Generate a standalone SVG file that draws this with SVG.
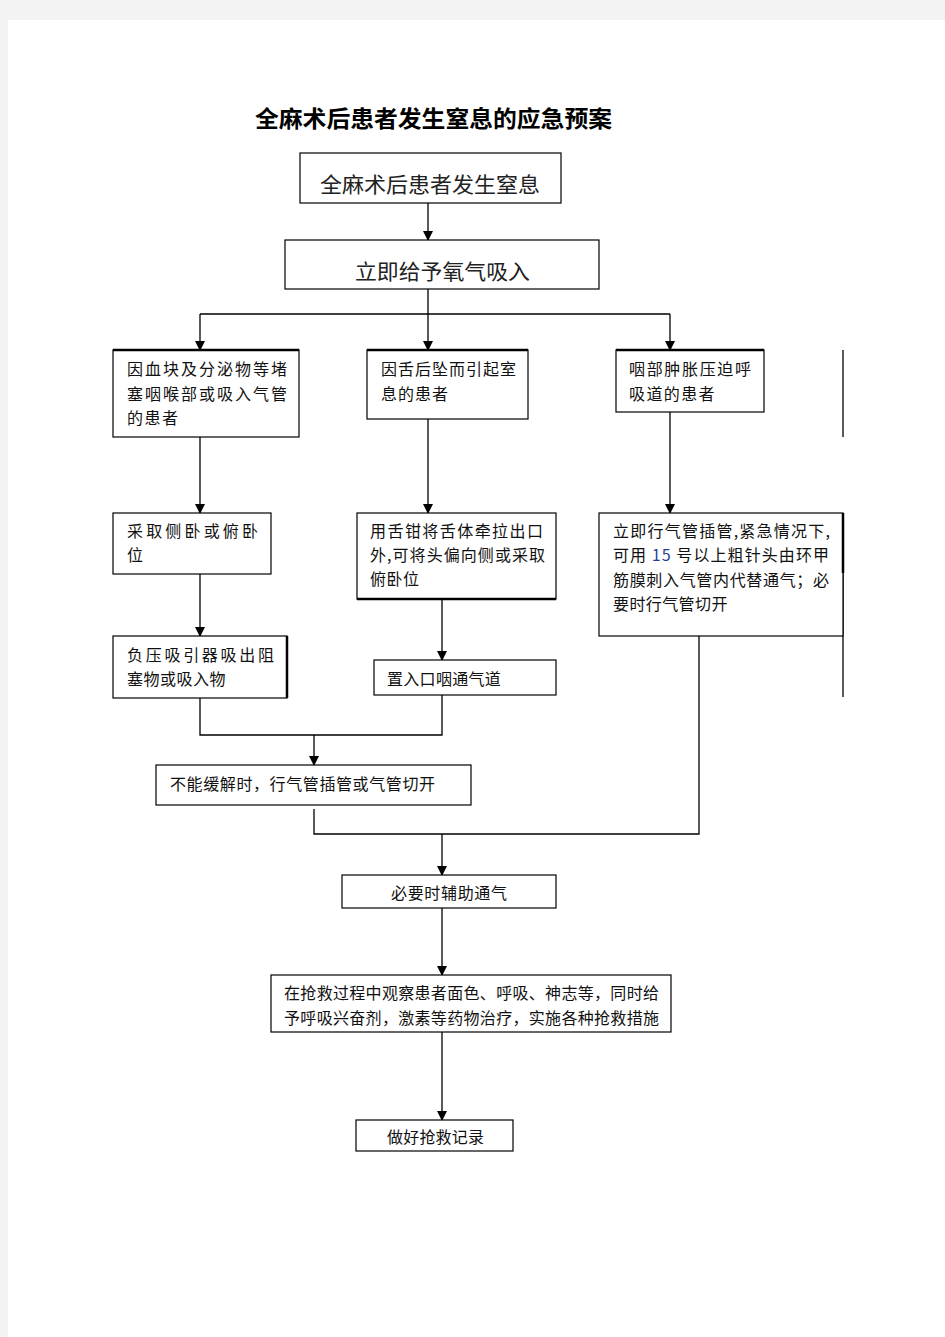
<svg xmlns="http://www.w3.org/2000/svg" width="945" height="1337" viewBox="0 0 945 1337">
<style>
.box{fill:#fff;stroke:#000;stroke-width:1.2}
.t{font-family:"Noto Sans CJK SC","Noto Sans",sans-serif;font-size:16px;fill:#111}
.big{font-family:"Noto Sans CJK SC","Noto Sans",sans-serif;font-size:21px;fill:#222}
.title{font-family:"Noto Sans CJK SC","Noto Sans",sans-serif;font-size:23px;font-weight:bold;fill:#000}
.ln{fill:none;stroke:#000;stroke-width:1.3}
.ar{fill:none;stroke:#000;stroke-width:1.3;marker-end:url(#ah)}
</style>
<defs>
<marker id="ah" markerWidth="10" markerHeight="10" refX="9" refY="5" orient="auto" markerUnits="userSpaceOnUse">
<path d="M0,0 L10,5 L0,10 z" fill="#000"/>
</marker>
</defs>
<rect x="0" y="0" width="945" height="1337" fill="#f3f3f3"/>
<rect x="8" y="20" width="937" height="1317" fill="#fff"/>
<text class="title" x="255" y="127" textLength="357" lengthAdjust="spacingAndGlyphs">全麻术后患者发生窒息的应急预案</text>

<g id="connectors">
<path class="ar" d="M428,203 V240"/>
<path class="ln" d="M428,289 V314 M200,314 H670"/>
<path class="ar" d="M428,314 V350"/>
<path class="ar" d="M200,314 V350"/>
<path class="ar" d="M670,314 V350"/>
<path class="ln" d="M843,350 V437"/>
<path class="ar" d="M200,437 V513"/>
<path class="ar" d="M428,419 V513"/>
<path class="ar" d="M670,412 V513"/>
<path class="ar" d="M200,574 V636"/>
<path class="ar" d="M442,599 V660"/>
<path class="ln" d="M843,573 V697"/>
<path class="ln" d="M200,698 V735 H442 V695"/>
<path class="ar" d="M314,735 V765"/>
<path class="ln" d="M314,809 V834 H699 V636"/>
<path class="ar" d="M442,834 V875"/>
<path class="ar" d="M442,908 V975"/>
<path class="ar" d="M442,1032 V1120"/>
</g>

<g id="n1">
<rect class="box" x="300" y="153" width="261" height="50"/>
<text class="big" x="320" y="192" textLength="220" lengthAdjust="spacingAndGlyphs">全麻术后患者发生窒息</text>
</g>
<g id="n2">
<rect class="box" x="285" y="240" width="314" height="49"/>
<text class="big" x="355" y="279" textLength="175" lengthAdjust="spacingAndGlyphs">立即给予氧气吸入</text>
</g>
<g id="a1">
<rect class="box" x="113" y="350" width="186" height="87"/>
<path d="M113,350 H299" stroke="#000" stroke-width="2.5"/>
<text class="t" x="127" y="375" textLength="160" lengthAdjust="spacing">因血块及分泌物等堵</text>
<text class="t" x="127" y="400" textLength="160" lengthAdjust="spacing">塞咽喉部或吸入气管</text>
<text class="t" x="127" y="424" letter-spacing="1.5">的患者</text>
</g>
<g id="b1">
<rect class="box" x="367" y="350" width="161" height="69"/>
<path d="M367,350 H528" stroke="#000" stroke-width="2.5"/>
<text class="t" x="381" y="375" textLength="135" lengthAdjust="spacing">因舌后坠而引起室</text>
<text class="t" x="381" y="400" letter-spacing="1">息的患者</text>
</g>
<g id="c1">
<rect class="box" x="616" y="350" width="148" height="62"/>
<path d="M616,350 H764" stroke="#000" stroke-width="2.5"/>
<text class="t" x="629" y="375" textLength="122" lengthAdjust="spacing">咽部肿胀压迫呼</text>
<text class="t" x="629" y="400" letter-spacing="1.4">吸道的患者</text>
</g>
<g id="a2">
<rect class="box" x="113" y="513" width="158" height="61"/>
<text class="t" x="127" y="537" textLength="131" lengthAdjust="spacing">采取侧卧或俯卧</text>
<text class="t" x="127" y="561">位</text>
</g>
<g id="b2">
<rect class="box" x="357" y="513" width="199" height="86"/>
<path d="M357,599 H556" stroke="#000" stroke-width="2.5"/>
<text class="t" x="370" y="537" textLength="173" lengthAdjust="spacing">用舌钳将舌体牵拉出口</text>
<text class="t" x="370" y="561" textLength="175" lengthAdjust="spacing">外,可将头偏向侧或采取</text>
<text class="t" x="370" y="585" letter-spacing="0.5">俯卧位</text>
</g>
<g id="c2">
<rect class="box" x="599" y="513" width="244" height="123"/>
<path d="M843,513 V573" stroke="#000" stroke-width="2.5"/>
<text class="t" x="613" y="537" textLength="217" lengthAdjust="spacing">立即行气管插管,紧急情况下,</text>
<text class="t" x="613" y="561" textLength="216" lengthAdjust="spacing">可用 <tspan fill="#1f3f9a">15</tspan> 号以上粗针头由环甲</text>
<text class="t" x="613" y="586" textLength="216" lengthAdjust="spacing">筋膜刺入气管内代替通气；必</text>
<text class="t" x="613" y="610" letter-spacing="0.4">要时行气管切开</text>
</g>
<g id="a3">
<rect class="box" x="113" y="636" width="174" height="62"/>
<path d="M287,636 V698" stroke="#000" stroke-width="2.5"/>
<text class="t" x="127" y="661" textLength="147" lengthAdjust="spacing">负压吸引器吸出阻</text>
<text class="t" x="127" y="685" letter-spacing="0.5">塞物或吸入物</text>
</g>
<g id="b3">
<rect class="box" x="374" y="660" width="182" height="35"/>
<text class="t" x="387" y="685" letter-spacing="0.3">置入口咽通气道</text>
</g>
<g id="d">
<rect class="box" x="156" y="765" width="315" height="40"/>
<text class="t" x="170" y="790" textLength="265" lengthAdjust="spacing">不能缓解时，行气管插管或气管切开</text>
</g>
<g id="e">
<rect class="box" x="342" y="875" width="214" height="33"/>
<text class="t" x="391" y="899" textLength="116" lengthAdjust="spacing">必要时辅助通气</text>
</g>
<g id="f">
<rect class="box" x="271" y="975" width="400" height="57"/>
<text class="t" x="284" y="999" textLength="375" lengthAdjust="spacing">在抢救过程中观察患者面色、呼吸、神志等，同时给</text>
<text class="t" x="284" y="1024" textLength="375" lengthAdjust="spacing">予呼吸兴奋剂，激素等药物治疗，实施各种抢救措施</text>
</g>
<g id="g">
<rect class="box" x="356" y="1120" width="157" height="31"/>
<text class="t" x="387" y="1143" textLength="97" lengthAdjust="spacing">做好抢救记录</text>
</g>
</svg>
